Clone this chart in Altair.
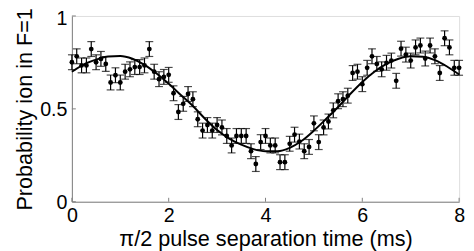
import altair as alt
import pandas as pd

# measured data: pulse separation time grid (ms) and probability readings
time_ms = [round(i * 0.1, 1) for i in range(81)]
prob = [0.751, 0.783, 0.734, 0.734, 0.822, 0.751, 0.769, 0.742, 0.642, 0.681,
        0.642, 0.700, 0.713, 0.725, 0.725, 0.734, 0.822, 0.700, 0.660, 0.672,
        0.683, 0.584, 0.483, 0.527, 0.580, 0.552,
        0.444, 0.383, 0.413, 0.383, 0.413, 0.400, 0.354, 0.303, 0.354, 0.354,
        0.354, 0.272, 0.203, 0.321, 0.354, 0.303, 0.303, 0.213, 0.213, 0.312,
        0.361, 0.324, 0.272, 0.295, 0.422,
        0.321, 0.400,
        0.432, 0.492, 0.541, 0.552, 0.571, 0.693, 0.700, 0.633, 0.721, 0.783,
        0.742, 0.713, 0.748, 0.760, 0.651, 0.824, 0.792, 0.760, 0.831, 0.841,
        0.771, 0.841, 0.783, 0.693, 0.880, 0.831, 0.721, 0.721]
err = [0.04] * 81

# fitted curve
fit_x = [0, 0.25, 0.5, 0.75, 1.0, 1.25, 1.5, 1.75, 2.0, 2.25, 2.5, 2.75, 3.0,
         3.25, 3.5, 3.75, 4.0, 4.25, 4.5, 4.75, 5.0, 5.25, 5.5, 5.75, 6.0,
         6.25, 6.5, 6.75, 7.0, 7.25, 7.5, 7.75, 8.0]
fit_y = [0.700, 0.740, 0.765, 0.782, 0.785, 0.770, 0.737, 0.690, 0.635, 0.575,
         0.515, 0.447, 0.386, 0.340, 0.307, 0.283, 0.272, 0.272, 0.290, 0.328,
         0.383, 0.445, 0.510, 0.580, 0.645, 0.700, 0.742, 0.770, 0.783, 0.780,
         0.762, 0.728, 0.685]

x_ticks = [0, 2, 4, 6, 8]
y_ticks = [0, 0.5, 1]

W, H = 394, 189
FONT = "Liberation Sans"
AXIS_GRAY = "#808080"

df = pd.DataFrame({"t": time_ms, "p": prob, "e": err})
df["lo"] = df["p"] - df["e"]
df["hi"] = df["p"] + df["e"]
fit_df = pd.DataFrame({"t": fit_x, "p": fit_y})

xs = alt.Scale(domain=[0, 8], nice=False, zero=False)
ys = alt.Scale(domain=[0, 1], nice=False, zero=False)

x_axis = alt.Axis(values=x_ticks, ticks=False, grid=False, domainColor=AXIS_GRAY,
                  labelFontSize=20, labelColor="black", labelPadding=4,
                  labelFlush=False, labelOverlap=False, format="d",
                  title="π/2 pulse separation time (ms)", titleFontSize=22,
                  titleFontWeight="normal", titleColor="black", titlePadding=4)
y_axis = alt.Axis(values=y_ticks, ticks=False, grid=False, domainColor=AXIS_GRAY,
                  labelFontSize=20, labelColor="black", labelPadding=5,
                  labelFlush=False, labelOverlap=False, format="~g",
                  labelOffset={"condition": {"test": "datum.value == 1", "value": 3}, "value": 1},
                  title="Probability ion in F=1", titleFontSize=22,
                  titleFontWeight="normal", titleColor="black", titlePadding=3)

base = alt.Chart(df)

bars = base.mark_rule(color="black", strokeWidth=1.2).encode(
    x=alt.X("t:Q", scale=xs, axis=x_axis),
    y=alt.Y("lo:Q", scale=ys, axis=y_axis),
    y2="hi:Q",
)
cap_lo = base.mark_tick(color="black", orient="horizontal", size=8, thickness=1.2).encode(
    x=alt.X("t:Q", scale=xs), y=alt.Y("lo:Q", scale=ys))
cap_hi = base.mark_tick(color="black", orient="horizontal", size=8, thickness=1.2).encode(
    x=alt.X("t:Q", scale=xs), y=alt.Y("hi:Q", scale=ys))
pts = base.mark_circle(color="black", size=24, opacity=1).encode(
    x=alt.X("t:Q", scale=xs), y=alt.Y("p:Q", scale=ys))

fit = alt.Chart(fit_df).mark_line(color="black", strokeWidth=2, interpolate="monotone").encode(
    x=alt.X("t:Q", scale=xs), y=alt.Y("p:Q", scale=ys))

xt = alt.Chart(pd.DataFrame({"v": x_ticks})).mark_rule(color=AXIS_GRAY, strokeWidth=1).encode(
    x=alt.X("v:Q", scale=xs), y=alt.value(H), y2=alt.value(H - 4))
yt = alt.Chart(pd.DataFrame({"v": y_ticks})).mark_rule(color=AXIS_GRAY, strokeWidth=1).encode(
    y=alt.Y("v:Q", scale=ys), x=alt.value(0), x2=alt.value(4))

chart = alt.layer(bars, cap_lo, cap_hi, pts, fit, xt, yt).properties(
    width=W, height=H,
    autosize=alt.AutoSizeParams(type="none"),
    padding={"left": 65, "top": 6, "right": 7, "bottom": 48},
).configure_view(stroke=None).configure(font=FONT, background="white")

chart.save("out.html", embed_options={"renderer": "svg", "actions": False})
